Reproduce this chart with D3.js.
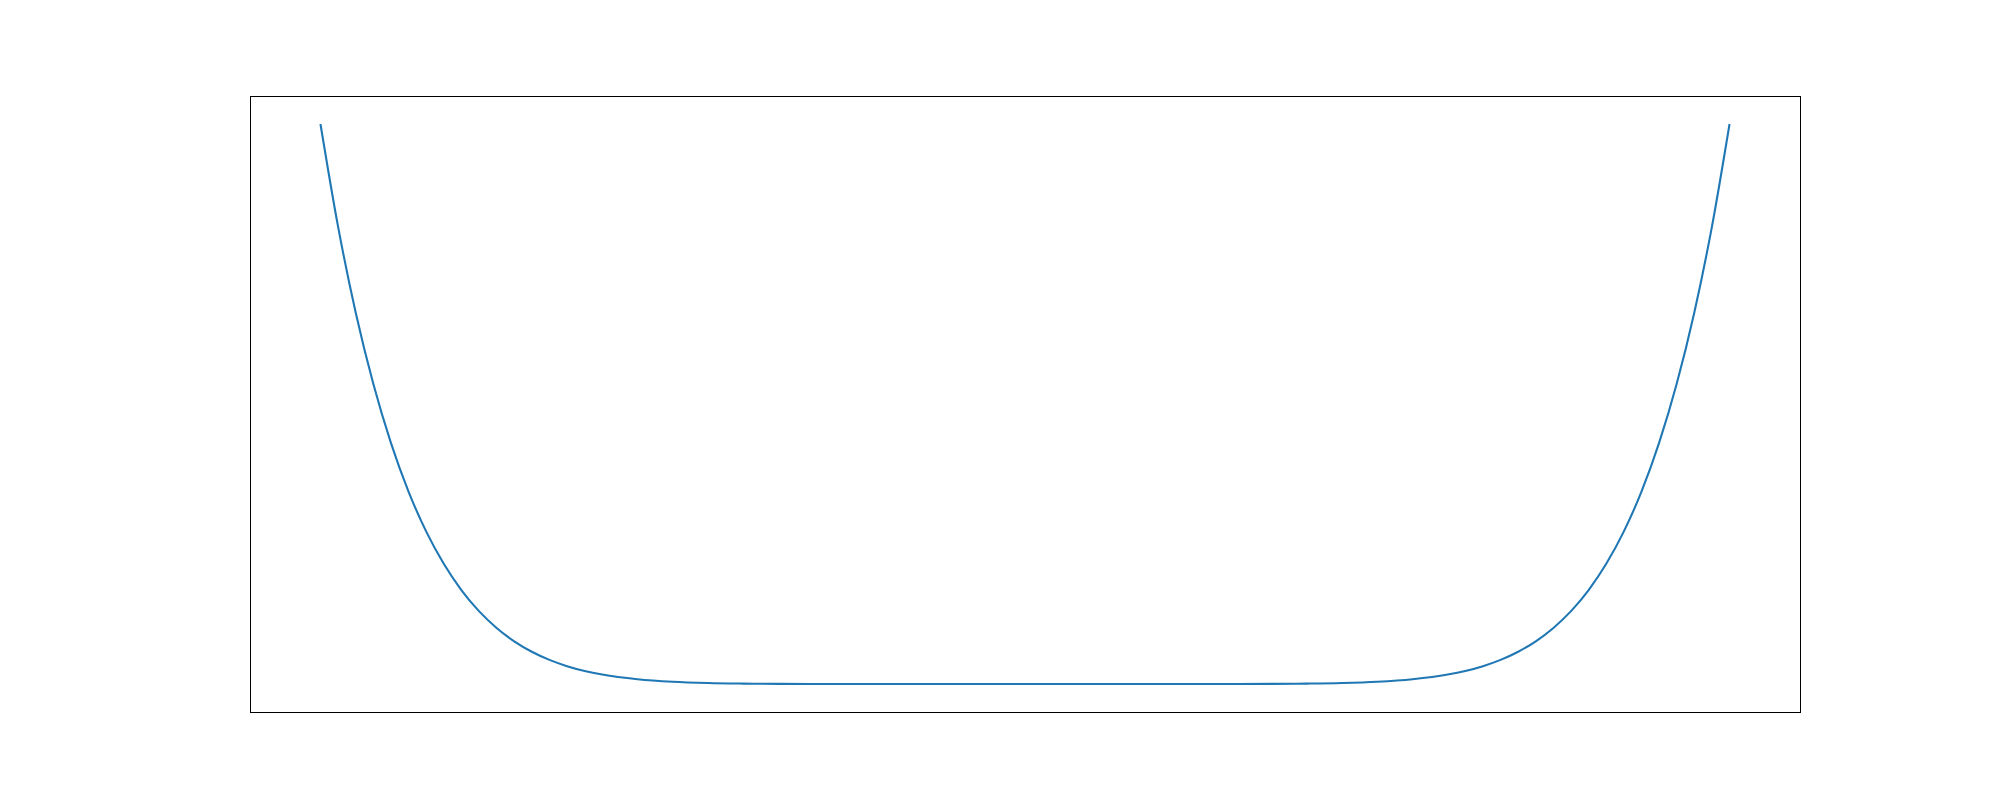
<!DOCTYPE html>
<html>
<head>
<meta charset="utf-8">
<script src="https://cdn.jsdelivr.net/npm/d3@7"></script>
<style>
  html, body { margin: 0; padding: 0; background: #fff; }
  svg { display: block; }
</style>
</head>
<body>
<svg id="chart" width="2000" height="800"></svg>
<script>
// sample positions and curve values
const xs = [
  -1, -0.975, -0.95, -0.925, -0.9, -0.875, -0.85, -0.825, -0.8, -0.775,
  -0.75, -0.725, -0.7, -0.675, -0.65, -0.625, -0.6,
  -0.55, -0.5, -0.45, -0.4, -0.35, -0.3, -0.25, -0.2, -0.15, -0.1, -0.05,
  0,
  0.05, 0.1, 0.15, 0.2, 0.25, 0.3, 0.35, 0.4, 0.45, 0.5, 0.55,
  0.6, 0.625, 0.65, 0.675, 0.7, 0.725, 0.75, 0.775, 0.8, 0.825,
  0.85, 0.875, 0.9, 0.925, 0.95, 0.975, 1
];
const ys = [
  1, 0.8167, 0.6634, 0.5360, 0.4305, 0.3436, 0.2725, 0.2146, 0.1678, 0.1301,
  0.1001, 0.0763, 0.0576, 0.0431, 0.0319, 0.0233, 0.0168,
  0.0084, 0.0039, 0.0017, 0.0007, 0.0002, 0.0001, 0, 0, 0, 0, 0,
  0,
  0, 0, 0, 0, 0, 0.0001, 0.0002, 0.0007, 0.0017, 0.0039, 0.0084,
  0.0168, 0.0233, 0.0319, 0.0431, 0.0576, 0.0763, 0.1001, 0.1301, 0.1678, 0.2146,
  0.2725, 0.3436, 0.4305, 0.5360, 0.6634, 0.8167, 1
];

const width = 2000, height = 800;
const margin = {left: 250, right: 200, top: 96, bottom: 88};
const plotW = width - margin.left - margin.right,
    plotH = height - margin.top - margin.bottom;

const points = xs.map((x, i) => ({x: x, y: ys[i]}));

// 5% padding on each side, like the source plot
const xExt = d3.extent(xs), yExt = d3.extent(ys);
const xPad = (xExt[1] - xExt[0]) * 0.05, yPad = (yExt[1] - yExt[0]) * 0.05;

const x = d3.scaleLinear()
    .domain([xExt[0] - xPad, xExt[1] + xPad])
    .range([0, plotW]);
const y = d3.scaleLinear()
    .domain([yExt[0] - yPad, yExt[1] + yPad])
    .range([plotH, 0]);

const svg = d3.select("#chart");
const g = svg.append("g")
    .attr("transform", `translate(${margin.left},${margin.top})`);

const line = d3.line()
    .x(d => x(d.x))
    .y(d => y(d.y))
    .curve(d3.curveMonotoneX);

g.append("path")
    .datum(points)
    .attr("fill", "none")
    .attr("stroke", "#1f77b4")
    .attr("stroke-width", 2.08)
    .attr("stroke-linejoin", "round")
    .attr("stroke-linecap", "butt")
    .attr("d", line);

// frame, drawn on pixel centres so it stays crisp
g.append("rect")
    .attr("x", 0.5)
    .attr("y", 0.5)
    .attr("width", plotW)
    .attr("height", plotH)
    .attr("fill", "none")
    .attr("stroke", "#000")
    .attr("stroke-width", 1.1)
    .attr("shape-rendering", "crispEdges");
</script>
</body>
</html>
